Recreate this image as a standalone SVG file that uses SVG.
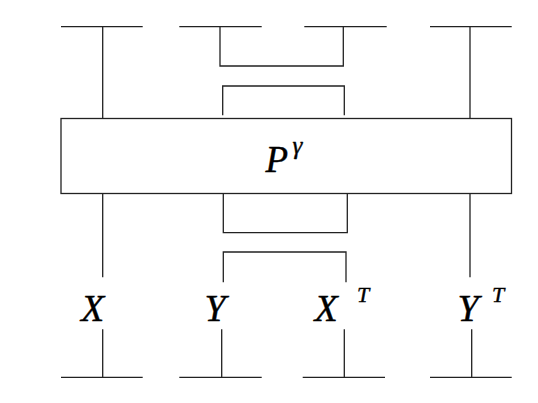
<svg xmlns="http://www.w3.org/2000/svg" width="538" height="403" viewBox="0 0 538 403">
<style>
.ln{stroke:#222;stroke-width:1.3;fill:none}
.lb{font-family:'Liberation Serif',serif;font-style:italic;fill:#000;stroke:#000;stroke-width:0.4}
</style>
<rect width="538" height="403" fill="#fff"/>
<g id="box">
<rect class="ln" x="61" y="118.5" width="450.5" height="75"/>
<text class="lb" x="265.5" y="171.5" font-size="37">P</text>
<text class="lb" x="292.5" y="154" font-size="25">γ</text>
</g>
<g id="connectors">
<path class="ln" d="M61 26.7H142.7M102.7 26.7V118.5"/>
<path class="ln" d="M179.3 26.7H261.7M304.3 26.7H386.7M220 26.7V66H343.3V26.7"/>
<path class="ln" d="M222.7 115.3V86H344.3V115.3"/>
<path class="ln" d="M430 26.7H511.7M470 26.7V118.5"/>
<path class="ln" d="M102.7 193.5V277.3M470 193.5V277.3"/>
<path class="ln" d="M223.3 193.5V232.7H347.3V193.5"/>
<path class="ln" d="M223.3 282.3V252H346V282.3"/>
<path class="ln" d="M102.7 329.3V377.3M61 377.3H142.7"/>
<path class="ln" d="M221.7 329.3V377.3M179.3 377.3H261.7"/>
<path class="ln" d="M344.3 329.3V377.3M302.7 377.3H385"/>
<path class="ln" d="M471.7 329.3V377.3M430 377.3H511.7"/>
</g>
<g id="label-X"><text class="lb" x="81" y="320.5" font-size="38">X</text></g>
<g id="label-Y"><text class="lb" x="204.5" y="320.5" font-size="38">Y</text></g>
<g id="label-XT"><text class="lb" x="314.5" y="320.5" font-size="38">X</text><text class="lb" x="357" y="302" font-size="22">T</text></g>
<g id="label-YT"><text class="lb" x="457.5" y="320.5" font-size="38">Y</text><text class="lb" x="492" y="302" font-size="22">T</text></g>
</svg>
